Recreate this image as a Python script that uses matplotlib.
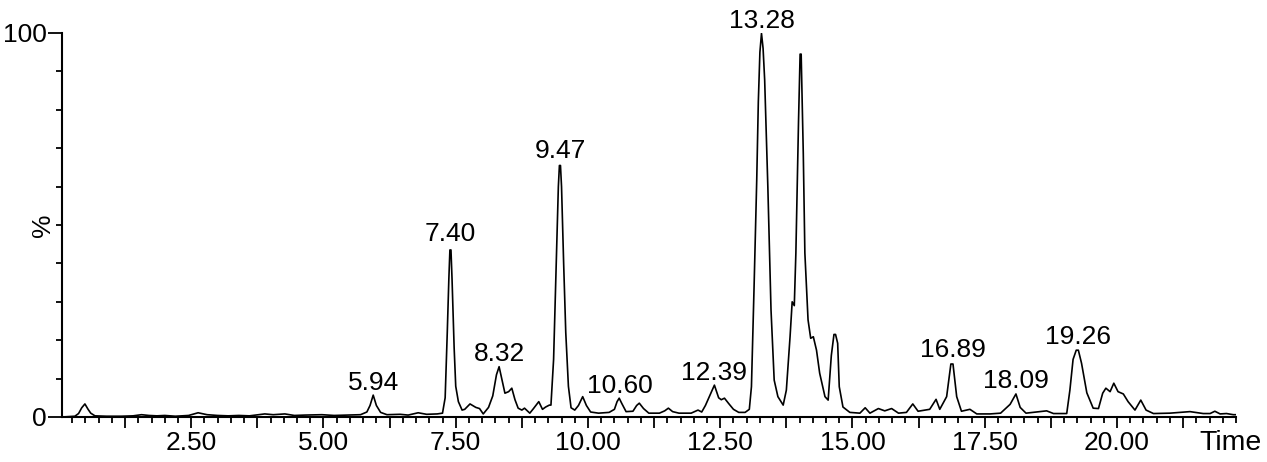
import numpy as np
import matplotlib
matplotlib.use("Agg")
import matplotlib.pyplot as plt
from matplotlib.ticker import MultipleLocator, FuncFormatter

plt.rcParams['font.family'] = ['Liberation Sans', 'DejaVu Sans']

# chromatogram trace (time in min, relative intensity in %)
rt = [0.06, 0.30, 0.37, 0.43, 0.49, 0.55, 0.60, 0.68, 0.90, 1.18, 1.40, 1.56, 1.70, 1.85,
      2.00, 2.20, 2.45, 2.63, 2.80, 3.00, 3.20, 3.40, 3.60, 3.89, 4.05, 4.27, 4.45, 4.65,
      4.97, 5.20, 5.45, 5.70, 5.82, 5.88, 5.94, 6.00, 6.08, 6.20, 6.45, 6.60, 6.79, 6.95,
      7.15, 7.25, 7.30, 7.34, 7.37, 7.39, 7.41, 7.43, 7.47, 7.50, 7.55, 7.62, 7.67, 7.77, 7.88,
      7.95, 8.02, 8.12, 8.20, 8.27, 8.32, 8.37, 8.43, 8.50, 8.56, 8.62, 8.68, 8.75, 8.80,
      8.90, 8.97, 9.07, 9.14, 9.20, 9.27, 9.30, 9.35, 9.40, 9.44, 9.46, 9.48, 9.50, 9.54, 9.58,
      9.63, 9.68, 9.75, 9.82, 9.90, 9.97, 10.05, 10.20, 10.40, 10.50, 10.55, 10.59, 10.64,
      10.72, 10.85, 10.92, 10.97, 11.05, 11.15, 11.35, 11.45, 11.52, 11.60, 11.72, 11.95,
      12.08, 12.15, 12.22, 12.30, 12.39, 12.47, 12.52, 12.58, 12.66, 12.75, 12.85, 12.97,
      13.05, 13.09, 13.14, 13.19, 13.22, 13.25, 13.28, 13.31, 13.34, 13.40, 13.46, 13.52,
      13.59, 13.69, 13.75, 13.82, 13.86, 13.90, 13.93, 13.98, 14.01, 14.03, 14.07, 14.10,
      14.16, 14.21, 14.26, 14.32, 14.38, 14.48, 14.54, 14.60, 14.65, 14.68, 14.72, 14.75,
      14.82, 14.95, 15.14, 15.24, 15.33, 15.49, 15.61, 15.74, 15.87, 16.02, 16.14, 16.24,
      16.46, 16.58, 16.65, 16.78, 16.86, 16.90, 16.97, 17.06, 17.22, 17.35, 17.60, 17.80,
      17.98, 18.09, 18.17, 18.28, 18.48, 18.67, 18.80, 19.05, 19.11, 19.17, 19.23, 19.27,
      19.33, 19.43, 19.55, 19.65, 19.73, 19.79, 19.87, 19.94, 20.02, 20.12, 20.21, 20.34,
      20.45, 20.55, 20.69, 21.00, 21.38, 21.63, 21.76, 21.85, 21.95, 22.07, 22.20, 22.25]
intensity = [0.0, 0.2, 0.9, 2.4, 3.4, 2.0, 1.0, 0.3, 0.2, 0.2, 0.3, 0.6, 0.4, 0.3,
             0.4, 0.2, 0.4, 1.1, 0.6, 0.4, 0.3, 0.4, 0.3, 0.8, 0.6, 0.8, 0.4, 0.5,
             0.6, 0.4, 0.5, 0.6, 1.3, 3.0, 5.7, 3.0, 1.2, 0.6, 0.7, 0.5, 1.1, 0.7,
             0.8, 1.0, 5.0, 22.0, 36.0, 43.5, 43.5, 36.0, 18.0, 8.0, 4.0, 1.8, 2.0, 3.4, 2.5,
             2.2, 0.8, 2.5, 5.5, 11.0, 13.1, 10.0, 6.2, 6.6, 7.5, 4.5, 2.3, 1.8, 2.3,
             1.0, 2.2, 4.0, 2.0, 2.6, 3.1, 3.1, 15.0, 40.0, 60.0, 65.5, 65.5, 60.0, 40.0, 22.0,
             8.0, 2.4, 1.8, 3.0, 5.3, 3.0, 1.3, 1.0, 1.2, 2.0, 4.0, 4.9, 3.5,
             1.4, 1.5, 3.0, 3.6, 2.2, 1.0, 1.0, 1.6, 2.3, 1.4, 1.0, 1.0,
             1.8, 1.3, 3.0, 5.5, 8.3, 5.0, 4.5, 4.9, 3.5, 2.0, 1.2, 1.2,
             2.0, 7.9, 34.0, 61.7, 82.0, 95.0, 99.9, 96.0, 87.8, 60.0, 27.9, 9.6,
             5.3, 3.1, 7.0, 20.9, 30.0, 29.0, 42.7, 77.0, 94.5, 94.5, 68.7, 42.7,
             25.3, 20.5, 20.9, 17.4, 11.4, 5.3, 4.4, 16.0, 21.5, 21.5, 19.2, 7.9,
             2.6, 1.2, 1.0, 2.4, 1.0, 2.2, 1.6, 2.2, 1.0, 1.2, 3.4, 1.5,
             2.0, 4.6, 2.0, 5.3, 13.8, 13.8, 5.3, 1.5, 2.0, 0.8, 0.8, 1.0,
             3.3, 6.0, 2.5, 1.0, 1.3, 1.6, 0.9, 0.9, 7.0, 15.0, 17.4, 17.4,
             14.0, 6.3, 2.3, 2.2, 6.2, 7.5, 6.6, 8.8, 6.6, 6.0, 4.0, 1.8,
             4.4, 1.8, 0.9, 1.0, 1.4, 0.9, 0.9, 1.5, 0.8, 0.9, 0.6, 0.6]

# labelled peaks
peak_rt = [5.94, 7.40, 8.32, 9.47, 10.60, 12.39, 13.28, 16.89, 18.09, 19.26]
peak_height = [5.7, 44.4, 13.1, 66.0, 4.9, 8.3, 99.9, 14.1, 6.0, 17.6]
peak_text = ["5.94", "7.40", "8.32", "9.47", "10.60", "12.39", "13.28", "16.89", "18.09", "19.26"]

x_min, x_max = 0.057, 22.25

fig = plt.figure(figsize=(12.67, 4.62), dpi=100)
ax = fig.add_axes([62 / 1267, 45 / 462, 1174 / 1267, 384 / 462])

ax.plot(rt, intensity, color='black', linewidth=1.2)

for t, h, s in zip(peak_rt, peak_height, peak_text):
    ax.annotate(s, xy=(t, h), xytext=(0, 4), textcoords='offset points',
                ha='center', va='baseline', fontsize=19, annotation_clip=False)

ax.set_xlim(x_min, x_max)
ax.set_ylim(0, 100)

for side in ['top', 'right']:
    ax.spines[side].set_visible(False)
for side in ['left', 'bottom']:
    ax.spines[side].set_linewidth(1.5)

# y axis: long ticks at 0 and 100, short every 10
ax.yaxis.set_major_locator(MultipleLocator(100))
ax.yaxis.set_minor_locator(MultipleLocator(10))
ax.yaxis.set_major_formatter(FuncFormatter(lambda v, p: "%d" % v))
ax.tick_params(axis='y', which='major', length=10, width=1.3, labelsize=19, pad=1)
ax.tick_params(axis='y', which='minor', length=4.5, width=1.3)

# x axis: long ticks every 1.25, labels every 2.5, short ticks every 0.25
ax.xaxis.set_major_locator(MultipleLocator(1.25))
ax.xaxis.set_minor_locator(MultipleLocator(0.25))


def x_fmt(v, pos):
    if abs(v / 2.5 - round(v / 2.5)) < 1e-6 and v > 0:
        return "%.2f" % v
    return ""


ax.xaxis.set_major_formatter(FuncFormatter(x_fmt))
ax.tick_params(axis='x', which='major', length=8, width=1.3, labelsize=19, pad=2)
ax.tick_params(axis='x', which='minor', length=4.5, width=1.3)

fig.text(43 / 1267, 1 - 225 / 462, "%", rotation=90, fontsize=19, ha='center', va='center')
fig.text(1262 / 1267, 1 - 450 / 462, "Time", fontsize=20.5, ha='right', va='baseline')

fig.savefig("out.png", dpi=100)
